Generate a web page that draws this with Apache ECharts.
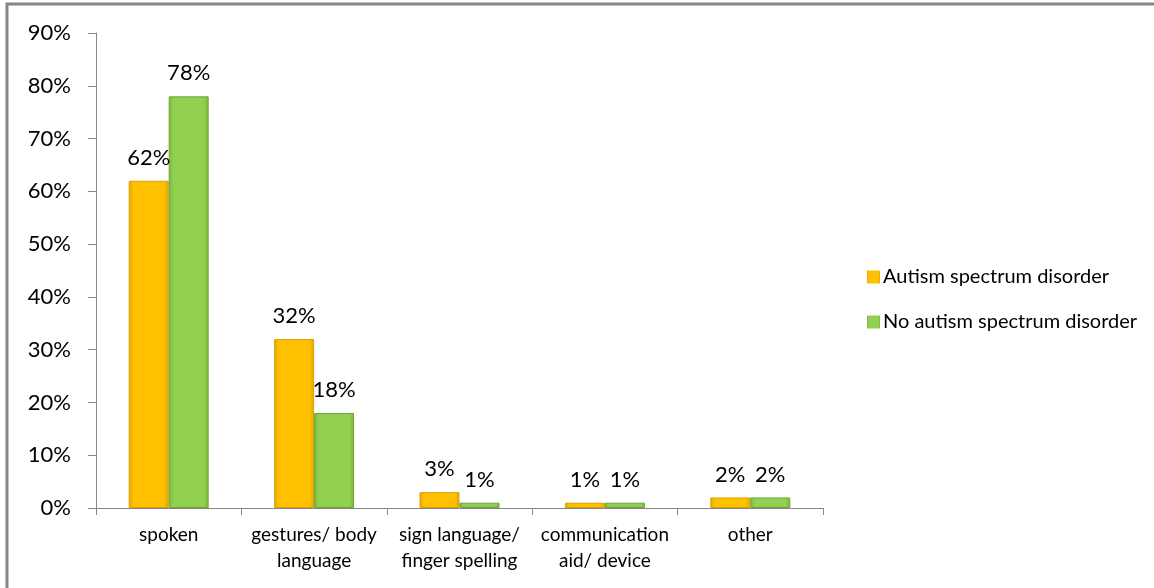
<!DOCTYPE html>
<html><head><meta charset="utf-8">
<script src="https://cdn.jsdelivr.net/npm/echarts@6/dist/echarts.min.js"></script>
<style>html,body{margin:0;padding:0;background:#fff;}#c{width:1154px;height:588px;}</style>
</head><body><div id="c"></div>
<script>
const categories = ['spoken', 'gestures/ body\nlanguage', 'sign language/\nfinger spelling', 'communication\naid/ device', 'other'];
const seriesNames = ['Autism spectrum disorder', 'No autism spectrum disorder'];
const autismValues = [62, 32, 3, 1, 2];
const noAutismValues = [78, 18, 1, 1, 2];
const yTicks = [0, 10, 20, 30, 40, 50, 60, 70, 80, 90];

const FONT = 'Lato';
const chart = echarts.init(document.getElementById('c'), null, {renderer: 'canvas'});
function barStyle(c1, c2, border) {
  return {
    color: new echarts.graphic.LinearGradient(0, 0, 1, 0, [
      {offset: 0, color: c2}, {offset: 0.12, color: c1}, {offset: 0.88, color: c1}, {offset: 1, color: c2}
    ]),
    borderColor: border, borderWidth: 1
  };
}
chart.setOption({
  animation: false,
  textStyle: {fontFamily: FONT},
  graphic: [{
    type: 'rect', shape: {x: 7, y: 4, width: 1200, height: 700},
    style: {fill: 'none', stroke: '#868686', lineWidth: 3}, z: -1
  }],
  legend: {
    orient: 'vertical', left: 862, top: 262, itemWidth: 13, itemHeight: 13, itemGap: 25, itemStyle: {borderWidth: 0},
    textStyle: {fontFamily: FONT, fontSize: 20, color: '#000', padding: [0, 0, 0, -2]},
    data: seriesNames.map(n => ({name: n, icon: 'rect'}))
  },
  grid: {left: 96, right: 331, top: 33, bottom: 80, containLabel: false},
  xAxis: {
    type: 'category', data: categories,
    axisLine: {lineStyle: {color: '#868686', width: 1}},
    axisTick: {show: true, length: 7, lineStyle: {color: '#868686'}},
    axisLabel: {color: '#000', fontFamily: FONT, fontSize: 19, lineHeight: 26, margin: 14, interval: 0}
  },
  yAxis: {
    type: 'value', min: 0, max: 90, interval: 10,
    axisLine: {show: true, lineStyle: {color: '#868686', width: 1}},
    axisTick: {show: true, length: 8, lineStyle: {color: '#868686'}},
    splitLine: {show: false},
    axisLabel: {color: '#000', fontFamily: FONT, fontSize: 22, margin: 25,
      formatter: v => yTicks.includes(v) ? v + '%' : ''}
  },
  series: [
    {
      name: seriesNames[0], type: 'bar', data: autismValues, barGap: '0%', barCategoryGap: '45%',
      itemStyle: barStyle('#FFC000', '#E6A800', '#D9A200'),
      label: {show: true, position: 'top', distance: 12, formatter: '{c}%', color: '#000', fontFamily: FONT, fontSize: 22}
    },
    {
      name: seriesNames[1], type: 'bar', data: noAutismValues,
      itemStyle: barStyle('#92D050', '#7DB63E', '#6FA435'),
      label: {show: true, position: 'top', distance: 12, formatter: '{c}%', color: '#000', fontFamily: FONT, fontSize: 22}
    }
  ]
});
</script></body></html>
